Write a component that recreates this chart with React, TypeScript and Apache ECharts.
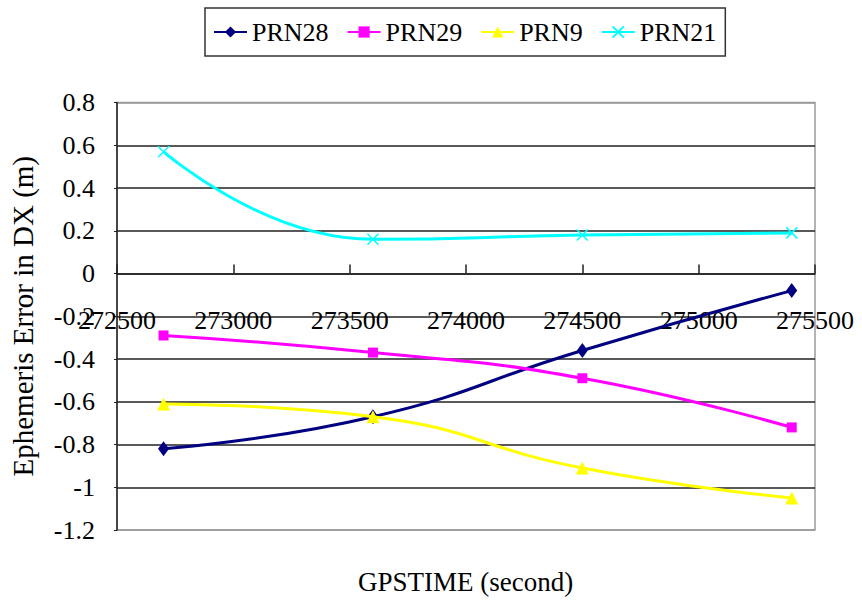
import React, { useEffect, useRef } from "react";
import * as echarts from "echarts";

const seriesNames = ["PRN28", "PRN29", "PRN9", "PRN21"];
const gpsTime = [272700, 273600, 274500, 275400];
const prn28 = [-0.82, -0.67, -0.36, -0.08];
const prn29 = [-0.29, -0.37, -0.49, -0.72];
const prn9 = [-0.61, -0.67, -0.91, -1.05];
const prn21 = [0.57, 0.16, 0.18, 0.19];
const colors = ["#000080", "#FF00FF", "#FFFF00", "#00FFFF"];
const symbols = [
  "diamond",
  "rect",
  "triangle",
  "path://M0,0L10,10M10,0L0,10",
];
const symbolSizes: any[] = [[11, 15], 10, [13, 13], 11];

const FONT = "Liberation Serif";

export default function App() {
  const ref = useRef<HTMLDivElement>(null);
  useEffect(() => {
    if (!ref.current) return;
    document.body.style.margin = "0";
    const chart = echarts.init(ref.current, undefined, { renderer: "svg" });
    const values = [prn28, prn29, prn9, prn21];
    const splitColors = ["#9a9a9a"];
    for (let i = 0; i < 9; i++) splitColors.push("#222");
    splitColors.push("#9a9a9a");
    const series = seriesNames.map((name, i) => {
      const isX = i === 3;
      return {
        name,
        type: "line",
        smooth: 0.5,
        data: gpsTime.map((t, j) => [t, values[i][j]]),
        symbol: symbols[i],
        symbolSize: symbolSizes[i],
        showAllSymbol: true,
        lineStyle: { color: colors[i], width: 3 },
        itemStyle: isX
          ? { color: "rgba(0,0,0,0)", borderColor: colors[i], borderWidth: 1.5 }
          : { color: colors[i], borderWidth: 0 },
        z: 3 + i,
      };
    });
    chart.setOption({
      animation: false,
      backgroundColor: "#fff",
      grid: {
        left: 116,
        top: 102.5,
        right: 47,
        bottom: 80,
        show: true,
        borderColor: "#9a9a9a",
        borderWidth: 1.5,
      },
      legend: {
        left: 205,
        top: 8,
        padding: [11, 9, 11, 8],
        itemGap: 18,
        itemWidth: 33,
        itemHeight: 14,
        borderColor: "#333",
        borderWidth: 1.5,
        textStyle: { fontFamily: FONT, fontSize: 26, color: "#000" },
        data: seriesNames,
      },
      xAxis: {
        type: "value",
        min: 272500,
        max: 275500,
        interval: 500,
        position: "bottom",
        offset: -256.5,
        axisLine: { onZero: false, lineStyle: { color: "#222", width: 1.5 } },
        axisTick: { show: true, inside: true, length: 9, lineStyle: { color: "#222", width: 1.5 } },
        axisLabel: {
          margin: 34,
          fontFamily: FONT,
          fontSize: 26,
          color: "#000",
          showMinLabel: true,
          showMaxLabel: true,
          hideOverlap: false,
          formatter: (v: number) => String(v),
        },
        splitLine: { show: false },
      },
      yAxis: {
        type: "value",
        min: -1.2,
        max: 0.8,
        interval: 0.2,
        name: "Ephemeris Error in DX (m)",
        nameLocation: "middle",
        nameGap: 80,
        nameRotate: 90,
        nameTextStyle: { fontFamily: FONT, fontSize: 29, color: "#000" },
        axisLine: { show: true, onZero: false, lineStyle: { color: "#222", width: 1.5 } },
        axisTick: { show: true, length: 3, lineStyle: { color: "#222" } },
        axisLabel: {
          margin: 22,
          fontFamily: FONT,
          fontSize: 26,
          color: "#000",
          formatter: (v: number) => String(Math.round(v * 10) / 10),
        },
        splitLine: { show: true, lineStyle: { color: splitColors, width: 1.5 } },
      },
      graphic: [
        {
          type: "text",
          left: 358,
          top: 568,
          style: {
            text: "GPSTIME (second)",
            fontFamily: FONT,
            fontSize: 27,
            fill: "#000",
          },
        },
      ],
      series,
    });
    return () => chart.dispose();
  }, []);
  return <div ref={ref} style={{ width: 862, height: 610 }} />;
}
